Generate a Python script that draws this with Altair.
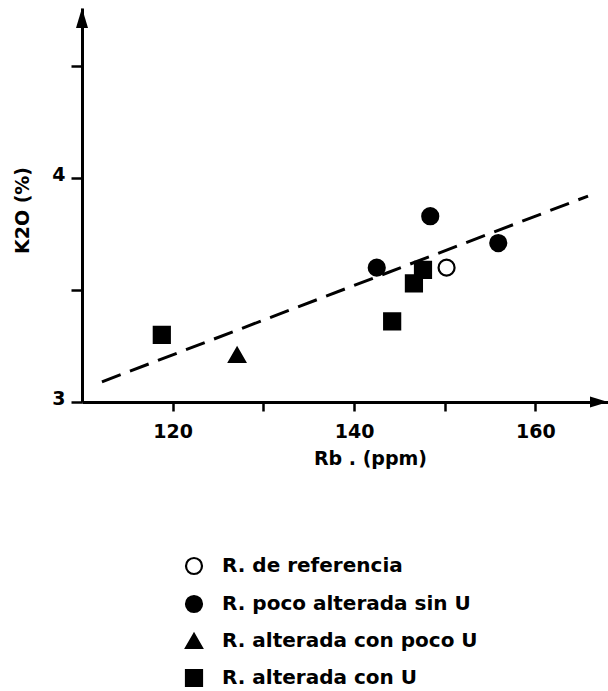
import altair as alt
import pandas as pd

# ---- data ----
categories = ["R. de referencia", "R. poco alterada sin U",
              "R. alterada con poco U", "R. alterada con U"]
group = ["R. de referencia",
         "R. poco alterada sin U", "R. poco alterada sin U", "R. poco alterada sin U",
         "R. alterada con poco U",
         "R. alterada con U", "R. alterada con U", "R. alterada con U", "R. alterada con U"]
rb = [150.2, 142.5, 148.4, 155.9, 127.1, 118.8, 144.2, 146.6, 147.6]
k2o = [3.60, 3.60, 3.83, 3.71, 3.21, 3.30, 3.36, 3.53, 3.59]

fit_rb = [112.2, 165.8]
fit_k2o = [3.09, 3.92]

x_domain = [110, 168]
y_domain = [3, 4.76]
x_ticks = [120, 130, 140, 150, 160]
y_ticks = [3, 3.5, 4, 4.5]

FONT = "DejaVu Sans"

pts = pd.DataFrame({"Rb": rb, "K2O": k2o, "grupo": group})
fit = pd.DataFrame({"Rb": fit_rb, "K2O": fit_k2o})
yarrow = pd.DataFrame({"Rb": [x_domain[0]], "K2O": [y_domain[1]]})
xarrow = pd.DataFrame({"Rb": [x_domain[1]], "K2O": [y_domain[0]]})

xs = alt.Scale(domain=x_domain, nice=False, zero=False)
ys = alt.Scale(domain=y_domain, nice=False, zero=False)

x_axis = alt.Axis(values=x_ticks, title="Rb . (ppm)",
                  labelExpr="datum.value % 20 == 0 ? datum.label : ''",
                  grid=False, domainWidth=3, domainColor="black",
                  tickWidth=2.5, tickColor="black", tickSize=9,
                  labelFontSize=19, labelFont=FONT, labelColor="black",
                  labelFontWeight="bold",
                  labelPadding=11, titleFontSize=19, titleFont=FONT,
                  titleFontWeight="bold", titleColor="black",
                  titlePadding=8, titleX=288)
y_axis = alt.Axis(values=y_ticks, title="K2O   (%)",
                  labelExpr="(datum.value == 3 || datum.value == 4) ? format(datum.value, 'd') : ''",
                  labelOverlap=False,
                  grid=False, domainWidth=3, domainColor="black",
                  tickWidth=2.5, tickColor="black", tickSize=11,
                  labelFontSize=19, labelFont=FONT, labelColor="black",
                  labelFontWeight="bold",
                  labelPadding=6, labelOffset=-4,
                  titleFontSize=19, titleFont=FONT,
                  titleFontWeight="bold", titleColor="black",
                  titleX=-60, titleY=202, titleBaseline="middle",
                  titleAlign="center")

X = alt.X("Rb:Q", scale=xs, axis=x_axis)
Y = alt.Y("K2O:Q", scale=ys, axis=y_axis)

line = alt.Chart(fit).mark_line(color="black", strokeWidth=3,
                                strokeDash=[20, 10]).encode(x=X, y=Y)

legend = alt.Legend(title=None, orient="none",
                    legendX=102, legendY=548,
                    labelFontSize=20, labelFont=FONT, labelFontWeight="bold",
                    labelColor="black", labelLimit=500,
                    symbolSize=256, symbolStrokeWidth=2.2,
                    symbolStrokeColor="black",
                    rowPadding=12, labelOffset=18, padding=0)

points = alt.Chart(pts).mark_point(size=256, strokeWidth=2.2, opacity=1).encode(
    x=X, y=Y,
    shape=alt.Shape("grupo:N",
                    scale=alt.Scale(domain=categories,
                                    range=["circle", "circle", "triangle-up", "square"]),
                    legend=legend),
    fill=alt.Fill("grupo:N",
                  scale=alt.Scale(domain=categories,
                                  range=["white", "black", "black", "black"]),
                  legend=legend),
    stroke=alt.Stroke("grupo:N",
                      scale=alt.Scale(domain=categories,
                                      range=["black", "black", "black", "black"]),
                      legend=legend),
)

arrow_y = alt.Chart(yarrow).mark_point(
    shape="M0,-1L0.6,1L-0.6,1Z", size=400, filled=True, color="black",
    opacity=1, yOffset=10).encode(x=X, y=Y)
arrow_x = alt.Chart(xarrow).mark_point(
    shape="M1,0L-1,-0.6L-1,0.6Z", size=324, filled=True, color="black",
    opacity=1, xOffset=-9).encode(x=X, y=Y)

chart = alt.layer(line, points, arrow_y, arrow_x).properties(
    width=526, height=394,
    autosize=alt.AutoSizeParams(type="none"),
    padding={"left": 82, "top": 8, "right": 0, "bottom": 289},
    background="white",
).configure_view(stroke=None)

chart.save("out.html", embed_options={"renderer": "svg", "actions": False})
